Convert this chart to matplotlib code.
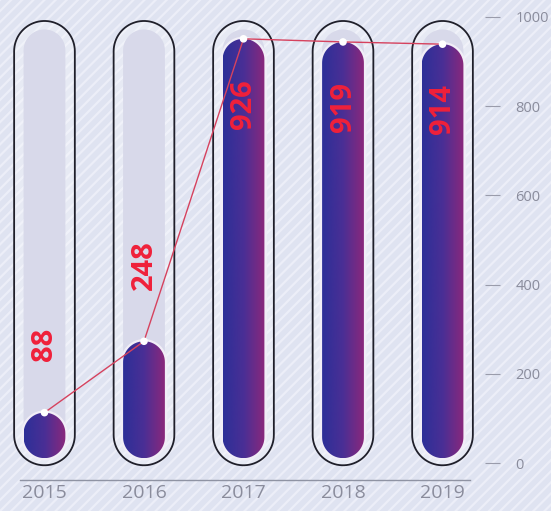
import numpy as np
import matplotlib.pyplot as plt
from matplotlib.patches import Polygon, Rectangle
from matplotlib.colors import LinearSegmentedColormap

# Data
years = ['2015', '2016', '2017', '2018', '2019']
values = [88, 248, 926, 919, 914]
y_ticks = [0, 200, 400, 600, 800, 1000]

plt.rcParams['font.family'] = ['Open Sans', 'DejaVu Sans']
plt.rcParams['hatch.linewidth'] = 1.6

fig = plt.figure(figsize=(5.51, 5.11), dpi=100)
# hatched lavender background
fig.add_artist(Rectangle((0, 0), 1, 1, transform=fig.transFigure, facecolor='#dfe3f1',
                         edgecolor='#eceef8', hatch='///', lw=0, zorder=-10))

ax = fig.add_axes([0, 31 / 511, 485 / 551, 480 / 511])
ax.set_facecolor('none')
ax.set_xlim(-0.447, 4.427)
ax.set_ylim(-38, 1038)

# pixels per data unit, so the round ends stay round
px_x = ax.bbox.width / (4.427 + 0.447)
px_y = ax.bbox.height / (1038 + 38)
aspect = px_x / px_y

cap_pad = 25     # bar top sits a little above its value
base = 11


def capsule(xc, y0, y1, hw, **kw):
    rx = hw
    ry = min(hw * aspect, (y1 - y0) / 2)
    t = np.linspace(0, np.pi, 40)
    top = np.column_stack([xc + rx * np.cos(t), y1 - ry + ry * np.sin(t)])
    bot = np.column_stack([xc - rx * np.cos(t), y0 + ry - ry * np.sin(t)])
    p = Polygon(np.vstack([top, bot]), closed=True, **kw)
    ax.add_patch(p)
    return p


cmap = LinearSegmentedColormap.from_list('bar', ['#2d2f98', '#4a2f95', '#8a287c'])
grad = np.linspace(0, 1, 100).reshape(1, -1)

x = np.arange(len(years))
tops = [v + cap_pad for v in values]

for i, v in enumerate(values):
    # outer capsule
    capsule(x[i], -5, 991, 0.305, facecolor=(1, 1, 1, 0.25), edgecolor='#1f1f2a', lw=1.3, zorder=1)
    # grey track
    capsule(x[i], base, 972, 0.21, facecolor='#d8d9ea', edgecolor='none', zorder=2)
    # white glow
    capsule(x[i], base - 5, tops[i] + 5, 0.235, facecolor='#f1eef7', edgecolor='none', zorder=3)
    clip = capsule(x[i], base, tops[i], 0.21, facecolor='none', edgecolor='none', zorder=4)
    im = ax.imshow(grad, extent=[x[i] - 0.21, x[i] + 0.21, base, tops[i]], aspect='auto',
                   cmap=cmap, zorder=4, interpolation='bicubic')
    im.set_clip_path(clip)

# line with dots
ax.plot(x, tops, color='#d6425e', lw=1, zorder=6)
ax.scatter(x, tops, s=30, color='white', edgecolors='none', zorder=7)

# value labels
for i, v in enumerate(values):
    if v < 500:
        ax.text(x[i], tops[i] + 115, str(v), rotation=90, ha='center', va='bottom',
                color='#f0203a', fontsize=21, fontweight='bold', zorder=8)
    else:
        ax.text(x[i], tops[i] - 90, str(v), rotation=90, ha='center', va='top',
                color='#f0203a', fontsize=21, fontweight='bold', zorder=8)

ax.set_xticks(x)
ax.set_xticklabels(years, fontsize=14, color='#8a8c9c')
ax.tick_params(axis='x', length=0, pad=3)

ax.yaxis.tick_right()
ax.set_yticks(y_ticks)
ax.set_yticklabels([str(t) for t in y_ticks], fontsize=10.5, color='#8a8c9c')
ax.tick_params(axis='y', length=11, width=0.8, color='#9a9cab', pad=11, direction='out')

for s in ['top', 'left', 'right']:
    ax.spines[s].set_visible(False)
ax.spines['bottom'].set_color('#8f93a3')
ax.spines['bottom'].set_linewidth(1)
ax.spines['bottom'].set_bounds(-0.25, 4.28)

fig.savefig('out.png', dpi=100)
